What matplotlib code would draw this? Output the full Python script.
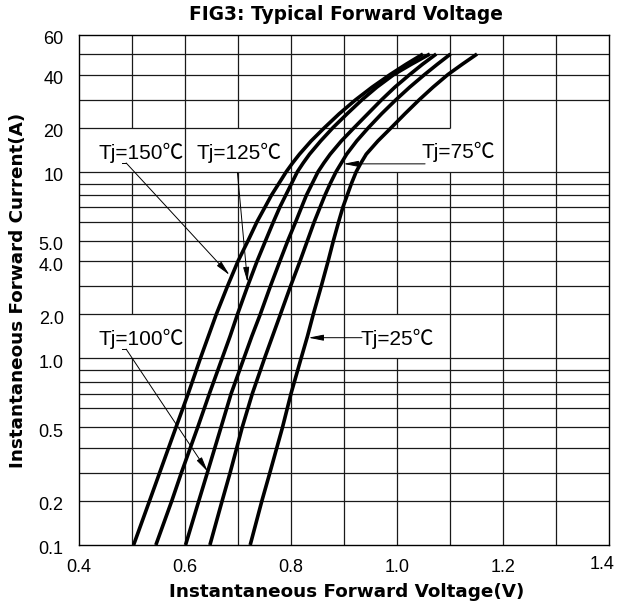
import numpy as np
import matplotlib
matplotlib.use('Agg')
import matplotlib.pyplot as plt
import matplotlib.transforms as mtransforms

# ---------------- data ----------------
I_pts = [0.1, 0.2, 0.3, 0.5, 0.7, 1, 1.5, 2, 3, 4, 5, 6, 7, 8, 9, 10, 12, 14, 17, 20, 25, 30, 35, 40, 45, 50]
V_150 = [0.503, 0.533, 0.552, 0.583, 0.606, 0.629, 0.644, 0.659, 0.680, 0.700, 0.719, 0.736, 0.751, 0.763, 0.777,
         0.791, 0.803, 0.816, 0.838, 0.863, 0.891, 0.922, 0.953, 0.987, 1.017, 1.049]
V_125 = [0.545, 0.575, 0.593, 0.624, 0.646, 0.670, 0.685, 0.699, 0.718, 0.736, 0.752, 0.767, 0.779, 0.790, 0.801,
         0.812, 0.823, 0.835, 0.856, 0.879, 0.906, 0.934, 0.962, 0.994, 1.027, 1.062]
V_100 = [0.601, 0.626, 0.642, 0.668, 0.687, 0.711, 0.726, 0.742, 0.761, 0.779, 0.794, 0.809, 0.820, 0.829, 0.840,
         0.851, 0.862, 0.874, 0.895, 0.919, 0.945, 0.971, 0.996, 1.024, 1.048, 1.074]
V_75 = [0.647, 0.670, 0.685, 0.708, 0.727, 0.750, 0.765, 0.780, 0.799, 0.817, 0.831, 0.844, 0.855, 0.864, 0.874,
        0.885, 0.895, 0.905, 0.924, 0.946, 0.971, 0.998, 1.024, 1.052, 1.076, 1.101]
V_25 = [0.723, 0.745, 0.760, 0.784, 0.800, 0.819, 0.831, 0.842, 0.857, 0.870, 0.880, 0.890, 0.898, 0.906, 0.914,
        0.923, 0.932, 0.942, 0.964, 0.989, 1.015, 1.042, 1.068, 1.096, 1.123, 1.151]

x_ticks = [0.4, 0.6, 0.8, 1.0, 1.2, 1.4]
x_ticklabels = ['0.4', '0.6', '0.8', '1.0', '1.2', '1.4']
y_ticks = [0.1, 0.2, 0.5, 1, 2, 4, 5, 10, 20, 40, 60]
y_ticklabels = ['0.1', '0.2', '0.5', '1.0', '2.0', '4.0', '5.0', '10', '20', '40', '60']

# chart's own (hand drawn) decade ruling: mantissa -> fraction of decade
MANT = np.array([1, 2, 3, 4, 5, 6, 7, 8, 9, 10.0])
FRAC = np.array([0, 0.236, 0.386, 0.521, 0.631, 0.733, 0.811, 0.874, 0.937, 1.0])


def fwd(v):
    v = np.asarray(v, dtype=float)
    ok = v > 0
    vs = np.where(ok, v, 1e-3)
    k = np.floor(np.log10(vs) + 1e-12)
    m = vs / 10.0 ** k
    out = k + np.interp(m, MANT, FRAC)
    return np.where(ok, out, -3.0)


def inv(p):
    p = np.asarray(p, dtype=float)
    k = np.floor(p)
    f = p - k
    return np.interp(f, FRAC, MANT) * 10.0 ** k


FONT = ['Liberation Sans', 'DejaVu Sans']
LBLFONT = ['Liberation Sans', 'Noto Sans CJK SC', 'DejaVu Sans']
plt.rcParams['font.family'] = FONT

fig = plt.figure(figsize=(6.19, 6.10), dpi=100)
ax = fig.add_axes([79 / 619, 65 / 610, 530 / 619, 510 / 610])
ax.set_yscale('function', functions=(fwd, inv))
ax.set_xlim(0.4, 1.4)
ax.set_ylim(0.1, 60)

# ---------------- grid (with the gaps of the original) ----------------
gc = '#1a1a1a'
glw = 0.9
v_lines = [0.5, 0.6, 0.7, 0.8, 0.9, 1.0, 1.1, 1.2, 1.3]
v_gaps = {0.5: [(10, 20), (1, 2)], 0.7: [(10, 20)], 1.0: [(10, 20), (1, 2)], 1.1: [(10, 20)]}
for xv in v_lines:
    segs = [(0.1, 60)]
    for g0, g1 in sorted(v_gaps.get(xv, [])):
        new = []
        for a, b in segs:
            if a < g0 < b:
                new.append((a, g0))
                new.append((g1, b))
            else:
                new.append((a, b))
        segs = new
    for a, b in segs:
        ax.vlines(xv, a, b, color=gc, lw=glw, zorder=1)

h_lines = [0.2, 0.3, 0.4, 0.5, 0.6, 0.7, 0.8, 0.9, 1, 2, 3, 4, 5, 6, 7, 8, 9, 10, 20, 30, 40, 50]
for yv in h_lines:
    x1 = 1.1 if yv == 20 else 1.4
    ax.hlines(yv, 0.4, x1, color=gc, lw=glw, zorder=1)

# ---------------- curves ----------------
for V in (V_150, V_125, V_100, V_75, V_25):
    ax.plot(V, I_pts, color='black', lw=2.6, solid_capstyle='butt', solid_joinstyle='round', zorder=3)

# ---------------- labels with leaders ----------------
ap = dict(arrowstyle='-|>,head_length=0.9,head_width=0.18', lw=0.7, color='black',
          shrinkA=0, shrinkB=0)
lbl = dict(fontsize=15, family=LBLFONT, ha='center', va='center', zorder=5)

ax.text(0.517, 14.4, 'Tj=150℃', **lbl)
ax.text(0.702, 14.4, 'Tj=125℃', **lbl)
ax.text(1.115, 14.6, 'Tj=75℃', **lbl)
ax.text(0.517, 1.45, 'Tj=100℃', **lbl)
ax.text(1.001, 1.45, 'Tj=25℃', **lbl)

ax.plot([0.481, 0.489], [12.0, 12.0], color='black', lw=0.7, zorder=4)
ax.annotate('', xy=(0.684, 3.45), xytext=(0.489, 12.0), arrowprops=ap, zorder=4)
ax.annotate('', xy=(0.718, 3.16), xytext=(0.699, 9.9), arrowprops=ap, zorder=4)
ax.annotate('', xy=(0.899, 11.8), xytext=(1.053, 11.8), arrowprops=ap, zorder=4)
ax.plot([0.481, 0.489], [1.21, 1.21], color='black', lw=0.7, zorder=4)
ax.annotate('', xy=(0.643, 0.305), xytext=(0.489, 1.21), arrowprops=ap, zorder=4)
ax.annotate('', xy=(0.833, 1.47), xytext=(0.934, 1.47), arrowprops=ap, zorder=4)

# ---------------- axes cosmetics ----------------
ax.set_xticks(x_ticks)
ax.set_xticklabels(x_ticklabels)
ax.set_yticks(y_ticks)
ax.set_yticklabels(y_ticklabels)
ax.minorticks_off()
ax.tick_params(length=0, labelsize=13, colors='black')
ax.tick_params(axis='y', pad=11)
ax.tick_params(axis='x', pad=10)
for t in ax.get_yticklabels():
    t.set_transform(t.get_transform() + mtransforms.ScaledTranslation(0, -3 / 100, fig.dpi_scale_trans))
xl = ax.get_xticklabels()
xl[-1].set_transform(xl[-1].get_transform() + mtransforms.ScaledTranslation(-7 / 100, 3 / 100, fig.dpi_scale_trans))
for s in ax.spines.values():
    s.set_linewidth(1.0)
    s.set_color('black')

BOLD = ['DejaVu Sans']
fig.text(346 / 619, 1 - 14 / 610, 'FIG3: Typical Forward Voltage', ha='center', va='center',
         fontsize=13.4, fontweight='bold', family=BOLD)
fig.text(347 / 619, 1 - 592 / 610, 'Instantaneous Forward Voltage(V)', ha='center', va='center',
         fontsize=13.2, fontweight='bold', family=BOLD)
fig.text(18 / 619, 1 - 290 / 610, 'Instantaneous Forward Current(A)', ha='center', va='center',
         rotation=90, fontsize=13.2, fontweight='bold', family=BOLD)

fig.savefig('out.png', dpi=100, facecolor='white')
